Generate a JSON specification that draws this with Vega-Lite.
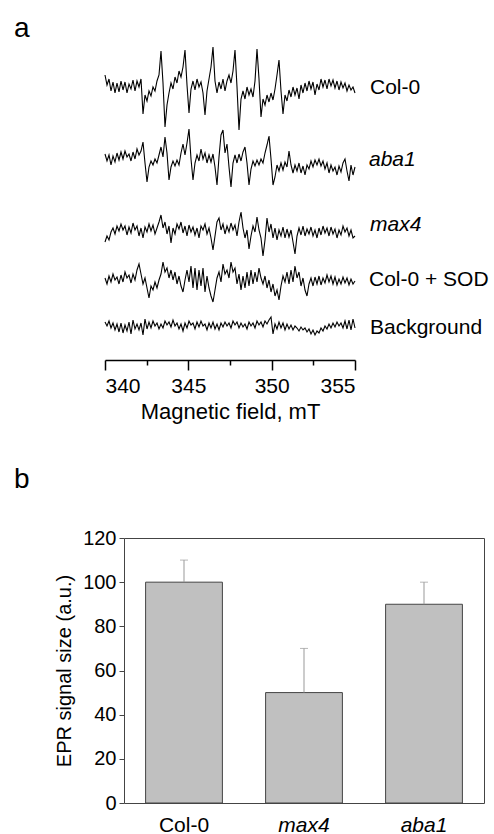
{
"$schema": "https://vega.github.io/schema/vega-lite/v6.json",
"padding": {"left": 13, "top": 14, "right": 0, "bottom": 0},
"spacing": 43,
"config": {"font": "Liberation Sans", "view": {"stroke": null}, "axis": {"labelColor": "#000", "titleColor": "#000", "labelFont": "Liberation Sans", "titleFont": "Liberation Sans", "titleFontWeight": "normal"}, "title": {"font": "Liberation Sans", "color": "#000", "fontWeight": "normal"}},
"datasets": {
"c0": [{"x":340,"y":12},{"x":340.12,"y":2},{"x":340.24,"y":8},{"x":340.36,"y":-4},{"x":340.48,"y":5},{"x":340.6,"y":-6},{"x":340.72,"y":4},{"x":340.84,"y":-5},{"x":340.96,"y":6},{"x":341.08,"y":-3},{"x":341.2,"y":5},{"x":341.32,"y":-6},{"x":341.44,"y":3},{"x":341.56,"y":-2},{"x":341.68,"y":7},{"x":341.8,"y":-4},{"x":341.92,"y":6},{"x":342.04,"y":0},{"x":342.16,"y":8},{"x":342.28,"y":-27},{"x":342.4,"y":-8},{"x":342.52,"y":-14},{"x":342.64,"y":-4},{"x":342.76,"y":-9},{"x":342.88,"y":0},{"x":343,"y":-4},{"x":343.12,"y":6},{"x":343.24,"y":12},{"x":343.36,"y":36},{"x":343.48,"y":4},{"x":343.6,"y":-40},{"x":343.72,"y":-18},{"x":343.84,"y":-6},{"x":343.96,"y":4},{"x":344.08,"y":-2},{"x":344.2,"y":10},{"x":344.32,"y":4},{"x":344.44,"y":16},{"x":344.56,"y":10},{"x":344.68,"y":20},{"x":344.8,"y":37},{"x":344.92,"y":2},{"x":345.04,"y":-26},{"x":345.16,"y":-2},{"x":345.28,"y":6},{"x":345.4,"y":-3},{"x":345.52,"y":8},{"x":345.64,"y":0},{"x":345.76,"y":5},{"x":345.88,"y":-6},{"x":346,"y":-28},{"x":346.12,"y":-4},{"x":346.24,"y":8},{"x":346.36,"y":20},{"x":346.48,"y":40},{"x":346.6,"y":6},{"x":346.72,"y":-6},{"x":346.84,"y":5},{"x":346.96,"y":-2},{"x":347.08,"y":8},{"x":347.2,"y":-4},{"x":347.32,"y":6},{"x":347.44,"y":12},{"x":347.56,"y":4},{"x":347.68,"y":16},{"x":347.8,"y":37},{"x":347.92,"y":0},{"x":348.04,"y":-43},{"x":348.16,"y":-12},{"x":348.28,"y":-4},{"x":348.4,"y":-12},{"x":348.52,"y":0},{"x":348.64,"y":-8},{"x":348.76,"y":-2},{"x":348.88,"y":-10},{"x":349,"y":6},{"x":349.12,"y":38},{"x":349.24,"y":8},{"x":349.36,"y":-30},{"x":349.48,"y":-12},{"x":349.6,"y":-18},{"x":349.72,"y":-8},{"x":349.84,"y":-15},{"x":349.96,"y":-6},{"x":350.08,"y":-13},{"x":350.2,"y":-2},{"x":350.32,"y":12},{"x":350.44,"y":27},{"x":350.56,"y":-4},{"x":350.68,"y":-27},{"x":350.8,"y":-8},{"x":350.92,"y":-14},{"x":351.04,"y":-3},{"x":351.16,"y":-10},{"x":351.28,"y":0},{"x":351.4,"y":-8},{"x":351.52,"y":-1},{"x":351.64,"y":-12},{"x":351.76,"y":2},{"x":351.88,"y":-6},{"x":352,"y":4},{"x":352.12,"y":-4},{"x":352.24,"y":6},{"x":352.36,"y":-2},{"x":352.48,"y":5},{"x":352.6,"y":-8},{"x":352.72,"y":3},{"x":352.84,"y":-3},{"x":352.96,"y":8},{"x":353.08,"y":0},{"x":353.2,"y":7},{"x":353.32,"y":-2},{"x":353.44,"y":8},{"x":353.56,"y":1},{"x":353.68,"y":7},{"x":353.8,"y":-1},{"x":353.92,"y":6},{"x":354.04,"y":-3},{"x":354.16,"y":5},{"x":354.28,"y":-1},{"x":354.4,"y":4},{"x":354.52,"y":-4},{"x":354.64,"y":2},{"x":354.76,"y":-3},{"x":354.88,"y":0},{"x":355,"y":-6}],
"ab": [{"x":340,"y":3},{"x":340.12,"y":-4},{"x":340.24,"y":2},{"x":340.36,"y":-8},{"x":340.48,"y":1},{"x":340.6,"y":-5},{"x":340.72,"y":4},{"x":340.84,"y":-3},{"x":340.96,"y":5},{"x":341.08,"y":-2},{"x":341.2,"y":6},{"x":341.32,"y":0},{"x":341.44,"y":3},{"x":341.56,"y":-4},{"x":341.68,"y":5},{"x":341.8,"y":-2},{"x":341.92,"y":8},{"x":342.04,"y":2},{"x":342.16,"y":6},{"x":342.28,"y":15},{"x":342.4,"y":-6},{"x":342.52,"y":-25},{"x":342.64,"y":-10},{"x":342.76,"y":-4},{"x":342.88,"y":-8},{"x":343,"y":-2},{"x":343.12,"y":-6},{"x":343.24,"y":2},{"x":343.36,"y":10},{"x":343.48,"y":0},{"x":343.6,"y":20},{"x":343.72,"y":4},{"x":343.84,"y":-23},{"x":343.96,"y":-10},{"x":344.08,"y":-4},{"x":344.2,"y":-9},{"x":344.32,"y":-3},{"x":344.44,"y":-8},{"x":344.56,"y":4},{"x":344.68,"y":13},{"x":344.8,"y":2},{"x":344.92,"y":14},{"x":345.04,"y":28},{"x":345.16,"y":-2},{"x":345.28,"y":-23},{"x":345.4,"y":-6},{"x":345.52,"y":2},{"x":345.64,"y":-4},{"x":345.76,"y":8},{"x":345.88,"y":-2},{"x":346,"y":4},{"x":346.12,"y":-6},{"x":346.24,"y":2},{"x":346.36,"y":-5},{"x":346.48,"y":3},{"x":346.6,"y":-10},{"x":346.72,"y":-28},{"x":346.84,"y":0},{"x":346.96,"y":22},{"x":347.08,"y":27},{"x":347.2,"y":4},{"x":347.32,"y":13},{"x":347.44,"y":-10},{"x":347.56,"y":-30},{"x":347.68,"y":-6},{"x":347.8,"y":2},{"x":347.92,"y":-6},{"x":348.04,"y":3},{"x":348.16,"y":-4},{"x":348.28,"y":5},{"x":348.4,"y":10},{"x":348.52,"y":-6},{"x":348.64,"y":-28},{"x":348.76,"y":-12},{"x":348.88,"y":-4},{"x":349,"y":-9},{"x":349.12,"y":-3},{"x":349.24,"y":-8},{"x":349.36,"y":-2},{"x":349.48,"y":-6},{"x":349.6,"y":4},{"x":349.72,"y":12},{"x":349.84,"y":21},{"x":349.96,"y":-2},{"x":350.08,"y":-28},{"x":350.2,"y":-20},{"x":350.32,"y":-8},{"x":350.44,"y":-14},{"x":350.56,"y":-6},{"x":350.68,"y":-13},{"x":350.8,"y":-5},{"x":350.92,"y":-10},{"x":351.04,"y":6},{"x":351.16,"y":-8},{"x":351.28,"y":-16},{"x":351.4,"y":-8},{"x":351.52,"y":-14},{"x":351.64,"y":-6},{"x":351.76,"y":-16},{"x":351.88,"y":-9},{"x":352,"y":-18},{"x":352.12,"y":-8},{"x":352.24,"y":-12},{"x":352.36,"y":-4},{"x":352.48,"y":-10},{"x":352.6,"y":-3},{"x":352.72,"y":-8},{"x":352.84,"y":-2},{"x":352.96,"y":-9},{"x":353.08,"y":-4},{"x":353.2,"y":-12},{"x":353.32,"y":-6},{"x":353.44,"y":-16},{"x":353.56,"y":-8},{"x":353.68,"y":-14},{"x":353.8,"y":-10},{"x":353.92,"y":-18},{"x":354.04,"y":-9},{"x":354.16,"y":-15},{"x":354.28,"y":-6},{"x":354.4,"y":-2},{"x":354.52,"y":-14},{"x":354.64,"y":-24},{"x":354.76,"y":-8},{"x":354.88,"y":-18},{"x":355,"y":-10}],
"mx": [{"x":340,"y":-10},{"x":340.12,"y":-4},{"x":340.24,"y":-8},{"x":340.36,"y":0},{"x":340.48,"y":4},{"x":340.6,"y":-2},{"x":340.72,"y":6},{"x":340.84,"y":1},{"x":340.96,"y":8},{"x":341.08,"y":2},{"x":341.2,"y":6},{"x":341.32,"y":-3},{"x":341.44,"y":5},{"x":341.56,"y":-1},{"x":341.68,"y":9},{"x":341.8,"y":2},{"x":341.92,"y":6},{"x":342.04,"y":-4},{"x":342.16,"y":4},{"x":342.28,"y":-6},{"x":342.4,"y":5},{"x":342.52,"y":0},{"x":342.64,"y":8},{"x":342.76,"y":1},{"x":342.88,"y":7},{"x":343,"y":-2},{"x":343.12,"y":4},{"x":343.24,"y":10},{"x":343.36,"y":17},{"x":343.48,"y":4},{"x":343.6,"y":10},{"x":343.72,"y":-2},{"x":343.84,"y":6},{"x":343.96,"y":-11},{"x":344.08,"y":4},{"x":344.2,"y":-2},{"x":344.32,"y":8},{"x":344.44,"y":3},{"x":344.56,"y":10},{"x":344.68,"y":-1},{"x":344.8,"y":6},{"x":344.92,"y":-4},{"x":345.04,"y":7},{"x":345.16,"y":0},{"x":345.28,"y":5},{"x":345.4,"y":-3},{"x":345.52,"y":4},{"x":345.64,"y":-6},{"x":345.76,"y":6},{"x":345.88,"y":2},{"x":346,"y":8},{"x":346.12,"y":-2},{"x":346.24,"y":4},{"x":346.36,"y":-6},{"x":346.48,"y":-18},{"x":346.6,"y":-4},{"x":346.72,"y":10},{"x":346.84,"y":14},{"x":346.96,"y":2},{"x":347.08,"y":8},{"x":347.2,"y":-2},{"x":347.32,"y":6},{"x":347.44,"y":0},{"x":347.56,"y":9},{"x":347.68,"y":2},{"x":347.8,"y":7},{"x":347.92,"y":-4},{"x":348.04,"y":10},{"x":348.16,"y":20},{"x":348.28,"y":4},{"x":348.4,"y":-6},{"x":348.52,"y":2},{"x":348.64,"y":-17},{"x":348.76,"y":-4},{"x":348.88,"y":6},{"x":349,"y":0},{"x":349.12,"y":15},{"x":349.24,"y":2},{"x":349.36,"y":-6},{"x":349.48,"y":-24},{"x":349.6,"y":-8},{"x":349.72,"y":14},{"x":349.84,"y":0},{"x":349.96,"y":8},{"x":350.08,"y":-6},{"x":350.2,"y":4},{"x":350.32,"y":-8},{"x":350.44,"y":2},{"x":350.56,"y":-4},{"x":350.68,"y":5},{"x":350.8,"y":-6},{"x":350.92,"y":3},{"x":351.04,"y":-5},{"x":351.16,"y":2},{"x":351.28,"y":-10},{"x":351.4,"y":-22},{"x":351.52,"y":-4},{"x":351.64,"y":4},{"x":351.76,"y":-3},{"x":351.88,"y":6},{"x":352,"y":-4},{"x":352.12,"y":3},{"x":352.24,"y":-2},{"x":352.36,"y":5},{"x":352.48,"y":-4},{"x":352.6,"y":2},{"x":352.72,"y":-6},{"x":352.84,"y":4},{"x":352.96,"y":-3},{"x":353.08,"y":6},{"x":353.2,"y":-1},{"x":353.32,"y":4},{"x":353.44,"y":-4},{"x":353.56,"y":5},{"x":353.68,"y":-2},{"x":353.8,"y":3},{"x":353.92,"y":-6},{"x":354.04,"y":2},{"x":354.16,"y":-3},{"x":354.28,"y":6},{"x":354.4,"y":0},{"x":354.52,"y":4},{"x":354.64,"y":-4},{"x":354.76,"y":2},{"x":354.88,"y":-6},{"x":355,"y":-4}],
"sod": [{"x":340,"y":2},{"x":340.12,"y":-4},{"x":340.24,"y":4},{"x":340.36,"y":-2},{"x":340.48,"y":6},{"x":340.6,"y":0},{"x":340.72,"y":3},{"x":340.84,"y":-4},{"x":340.96,"y":5},{"x":341.08,"y":-2},{"x":341.2,"y":8},{"x":341.32,"y":2},{"x":341.44,"y":5},{"x":341.56,"y":-3},{"x":341.68,"y":6},{"x":341.8,"y":0},{"x":341.92,"y":10},{"x":342.04,"y":16},{"x":342.16,"y":6},{"x":342.28,"y":-4},{"x":342.4,"y":2},{"x":342.52,"y":-8},{"x":342.64,"y":-18},{"x":342.76,"y":-6},{"x":342.88,"y":-10},{"x":343,"y":-2},{"x":343.12,"y":-8},{"x":343.24,"y":0},{"x":343.36,"y":6},{"x":343.48,"y":18},{"x":343.6,"y":8},{"x":343.72,"y":12},{"x":343.84,"y":2},{"x":343.96,"y":10},{"x":344.08,"y":0},{"x":344.2,"y":8},{"x":344.32,"y":-4},{"x":344.44,"y":4},{"x":344.56,"y":-6},{"x":344.68,"y":-12},{"x":344.8,"y":0},{"x":344.92,"y":10},{"x":345.04,"y":-2},{"x":345.16,"y":14},{"x":345.28,"y":-8},{"x":345.4,"y":12},{"x":345.52,"y":-10},{"x":345.64,"y":10},{"x":345.76,"y":-6},{"x":345.88,"y":12},{"x":346,"y":-12},{"x":346.12,"y":4},{"x":346.24,"y":-8},{"x":346.36,"y":-16},{"x":346.48,"y":-22},{"x":346.6,"y":-10},{"x":346.72,"y":2},{"x":346.84,"y":8},{"x":346.96,"y":-2},{"x":347.08,"y":16},{"x":347.2,"y":6},{"x":347.32,"y":10},{"x":347.44,"y":2},{"x":347.56,"y":18},{"x":347.68,"y":8},{"x":347.8,"y":12},{"x":347.92,"y":-4},{"x":348.04,"y":6},{"x":348.16,"y":-10},{"x":348.28,"y":4},{"x":348.4,"y":-8},{"x":348.52,"y":8},{"x":348.64,"y":-6},{"x":348.76,"y":10},{"x":348.88,"y":-4},{"x":349,"y":8},{"x":349.12,"y":-2},{"x":349.24,"y":12},{"x":349.36,"y":2},{"x":349.48,"y":-4},{"x":349.6,"y":4},{"x":349.72,"y":-8},{"x":349.84,"y":0},{"x":349.96,"y":-12},{"x":350.08,"y":-4},{"x":350.2,"y":-16},{"x":350.32,"y":-10},{"x":350.44,"y":-20},{"x":350.56,"y":-6},{"x":350.68,"y":4},{"x":350.8,"y":-2},{"x":350.92,"y":8},{"x":351.04,"y":-4},{"x":351.16,"y":10},{"x":351.28,"y":-2},{"x":351.4,"y":14},{"x":351.52,"y":2},{"x":351.64,"y":8},{"x":351.76,"y":-6},{"x":351.88,"y":2},{"x":352,"y":-10},{"x":352.12,"y":-16},{"x":352.24,"y":-4},{"x":352.36,"y":2},{"x":352.48,"y":-6},{"x":352.6,"y":3},{"x":352.72,"y":-4},{"x":352.84,"y":4},{"x":352.96,"y":-5},{"x":353.08,"y":2},{"x":353.2,"y":-3},{"x":353.32,"y":5},{"x":353.44,"y":-2},{"x":353.56,"y":4},{"x":353.68,"y":-4},{"x":353.8,"y":3},{"x":353.92,"y":-5},{"x":354.04,"y":1},{"x":354.16,"y":-4},{"x":354.28,"y":3},{"x":354.4,"y":-3},{"x":354.52,"y":2},{"x":354.64,"y":-5},{"x":354.76,"y":1},{"x":354.88,"y":-4},{"x":355,"y":-1}],
"bg": [{"x":340,"y":4},{"x":340.12,"y":0},{"x":340.24,"y":5},{"x":340.36,"y":-2},{"x":340.48,"y":3},{"x":340.6,"y":-4},{"x":340.72,"y":2},{"x":340.84,"y":-6},{"x":340.96,"y":3},{"x":341.08,"y":-7},{"x":341.2,"y":1},{"x":341.32,"y":-5},{"x":341.44,"y":4},{"x":341.56,"y":-8},{"x":341.68,"y":6},{"x":341.8,"y":-3},{"x":341.92,"y":2},{"x":342.04,"y":-4},{"x":342.16,"y":3},{"x":342.28,"y":-9},{"x":342.4,"y":7},{"x":342.52,"y":-3},{"x":342.64,"y":4},{"x":342.76,"y":-2},{"x":342.88,"y":5},{"x":343,"y":0},{"x":343.12,"y":3},{"x":343.24,"y":-3},{"x":343.36,"y":2},{"x":343.48,"y":-2},{"x":343.6,"y":5},{"x":343.72,"y":1},{"x":343.84,"y":4},{"x":343.96,"y":-1},{"x":344.08,"y":6},{"x":344.2,"y":0},{"x":344.32,"y":3},{"x":344.44,"y":-3},{"x":344.56,"y":2},{"x":344.68,"y":-5},{"x":344.8,"y":3},{"x":344.92,"y":-2},{"x":345.04,"y":5},{"x":345.16,"y":1},{"x":345.28,"y":3},{"x":345.4,"y":-3},{"x":345.52,"y":4},{"x":345.64,"y":-1},{"x":345.76,"y":5},{"x":345.88,"y":0},{"x":346,"y":2},{"x":346.12,"y":-4},{"x":346.24,"y":3},{"x":346.36,"y":-2},{"x":346.48,"y":4},{"x":346.6,"y":-3},{"x":346.72,"y":2},{"x":346.84,"y":-4},{"x":346.96,"y":3},{"x":347.08,"y":-1},{"x":347.2,"y":4},{"x":347.32,"y":0},{"x":347.44,"y":3},{"x":347.56,"y":-2},{"x":347.68,"y":5},{"x":347.8,"y":1},{"x":347.92,"y":4},{"x":348.04,"y":-2},{"x":348.16,"y":3},{"x":348.28,"y":-1},{"x":348.4,"y":2},{"x":348.52,"y":-3},{"x":348.64,"y":4},{"x":348.76,"y":0},{"x":348.88,"y":3},{"x":349,"y":-2},{"x":349.12,"y":5},{"x":349.24,"y":1},{"x":349.36,"y":4},{"x":349.48,"y":-1},{"x":349.6,"y":5},{"x":349.72,"y":2},{"x":349.84,"y":6},{"x":349.96,"y":9},{"x":350.08,"y":-8},{"x":350.2,"y":2},{"x":350.32,"y":-3},{"x":350.44,"y":4},{"x":350.56,"y":-2},{"x":350.68,"y":3},{"x":350.8,"y":-4},{"x":350.92,"y":2},{"x":351.04,"y":-3},{"x":351.16,"y":1},{"x":351.28,"y":-4},{"x":351.4,"y":0},{"x":351.52,"y":-2},{"x":351.64,"y":-5},{"x":351.76,"y":-1},{"x":351.88,"y":-4},{"x":352,"y":-2},{"x":352.12,"y":-6},{"x":352.24,"y":-3},{"x":352.36,"y":-8},{"x":352.48,"y":-4},{"x":352.6,"y":-9},{"x":352.72,"y":-5},{"x":352.84,"y":-7},{"x":352.96,"y":-2},{"x":353.08,"y":-5},{"x":353.2,"y":0},{"x":353.32,"y":-3},{"x":353.44,"y":2},{"x":353.56,"y":-2},{"x":353.68,"y":3},{"x":353.8,"y":-1},{"x":353.92,"y":4},{"x":354.04,"y":0},{"x":354.16,"y":3},{"x":354.28,"y":-2},{"x":354.4,"y":5},{"x":354.52,"y":-3},{"x":354.64,"y":6},{"x":354.76,"y":-4},{"x":354.88,"y":7},{"x":355,"y":-2}],
"bars": [{"g":"Col-0","v":100,"hi":110},{"g":"max4","v":50,"hi":70},{"g":"aba1","v":90,"hi":100}]
},
"vconcat": [
{
"title": {"text": "a", "anchor": "start", "frame": "group", "fontSize": 28, "dx": -110, "offset": 2},
"width": 231, "height": 310,
"encoding": {"x": {"field": "x", "type": "quantitative", "scale": {"domain": [340, 355], "range": [-19, 231], "nice": false, "zero": false},
  "axis": {"values": [340, 342.5, 345, 347.5, 350, 352.5, 355], "labelExpr": "datum.value % 5 === 0 ? datum.label : ''", "labelOverlap": false, "tickSize": {"condition": {"test": "datum.value % 5 === 0", "value": 10}, "value": 5}, "domainColor": "#000", "tickColor": "#000", "domainWidth": 1.5, "tickWidth": 1.5, "labelFontSize": 21, "labelPadding": 5, "grid": false, "title": "Magnetic field, mT", "titleFontSize": 22, "titlePadding": 5}}},
"layer": [
 {"layer": [
   {"data": {"name": "c0"}, "mark": {"type": "line", "color": "#000", "strokeWidth": 1.1}},
   {"data": {"values": [{"x": 355, "y": 0, "t": "Col-0"}]}, "mark": {"type": "text", "align": "left", "baseline": "middle", "dx": 15, "dy": 1, "fontSize": 21, "color": "#000"}, "encoding": {"text": {"field": "t"}}}],
  "encoding": {"y": {"field": "y", "type": "quantitative", "scale": {"domain": [-273, 37], "nice": false, "zero": false}, "axis": null}}},
 {"layer": [
   {"data": {"name": "ab"}, "mark": {"type": "line", "color": "#000", "strokeWidth": 1.1}},
   {"data": {"values": [{"x": 355, "y": 0, "t": "aba1"}]}, "mark": {"type": "text", "align": "left", "baseline": "middle", "dx": 14, "dy": 3, "fontSize": 21, "fontStyle": "italic", "color": "#000"}, "encoding": {"text": {"field": "t"}}}],
  "encoding": {"y": {"field": "y", "type": "quantitative", "scale": {"domain": [-203, 107], "nice": false, "zero": false}, "axis": null}}},
 {"layer": [
   {"data": {"name": "mx"}, "mark": {"type": "line", "color": "#000", "strokeWidth": 1.1}},
   {"data": {"values": [{"x": 355, "y": 0, "t": "max4"}]}, "mark": {"type": "text", "align": "left", "baseline": "middle", "dx": 15, "dy": -7, "fontSize": 21, "fontStyle": "italic", "color": "#000"}, "encoding": {"text": {"field": "t"}}}],
  "encoding": {"y": {"field": "y", "type": "quantitative", "scale": {"domain": [-128, 182], "nice": false, "zero": false}, "axis": null}}},
 {"layer": [
   {"data": {"name": "sod"}, "mark": {"type": "line", "color": "#000", "strokeWidth": 1.1}},
   {"data": {"values": [{"x": 355, "y": 0, "t": "Col-0 + SOD"}]}, "mark": {"type": "text", "align": "left", "baseline": "middle", "dx": 14, "dy": 0, "fontSize": 21, "color": "#000"}, "encoding": {"text": {"field": "t"}}}],
  "encoding": {"y": {"field": "y", "type": "quantitative", "scale": {"domain": [-80, 230], "nice": false, "zero": false}, "axis": null}}},
 {"layer": [
   {"data": {"name": "bg"}, "mark": {"type": "line", "color": "#000", "strokeWidth": 1.1}},
   {"data": {"values": [{"x": 355, "y": 0, "t": "Background"}]}, "mark": {"type": "text", "align": "left", "baseline": "middle", "dx": 15, "dy": 2, "fontSize": 21, "color": "#000"}, "encoding": {"text": {"field": "t"}}}],
  "encoding": {"y": {"field": "y", "type": "quantitative", "scale": {"domain": [-34, 276], "nice": false, "zero": false}, "axis": null}}}
],
"resolve": {"scale": {"y": "independent"}}
},
{
"title": {"text": "b", "anchor": "start", "frame": "group", "fontSize": 28, "dx": -110, "offset": 34},
"width": 360, "height": 265,
"view": {"stroke": "#444", "strokeWidth": 1},
"data": {"name": "bars"},
"encoding": {"x": {"field": "g", "type": "nominal", "sort": null, "scale": {"paddingInner": 0.36, "paddingOuter": 0.18},
  "axis": {"title": null, "ticks": false, "domain": false, "labelAngle": 0, "labelFontSize": 21, "labelPadding": 11, "labelFontStyle": {"expr": "datum.value == 'Col-0' ? 'normal' : 'italic'"}}}},
"layer": [
 {"mark": {"type": "bar", "fill": "#c0c0c0", "stroke": "#444", "strokeWidth": 1},
  "encoding": {"y": {"field": "v", "type": "quantitative", "scale": {"domain": [0, 120], "nice": false},
   "axis": {"title": "EPR signal size (a.u.)", "titleFontSize": 20, "titlePadding": 8, "values": [0, 10, 20, 30, 40, 50, 60, 70, 80, 90, 100, 110, 120], "labelExpr": "datum.value % 20 === 0 ? datum.label : ''", "labelOverlap": false, "tickSize": {"condition": {"test": "datum.value % 20 === 0", "value": 5}, "value": 3}, "domain": false, "grid": false, "labelFontSize": 20, "tickColor": "#444", "labelPadding": 3}}}},
 {"mark": {"type": "rule", "color": "#999", "strokeWidth": 1}, "encoding": {"y": {"field": "v", "type": "quantitative"}, "y2": {"field": "hi"}}},
 {"mark": {"type": "tick", "color": "#999", "thickness": 1, "size": 8}, "encoding": {"y": {"field": "hi", "type": "quantitative"}}}
]
}
]
}
